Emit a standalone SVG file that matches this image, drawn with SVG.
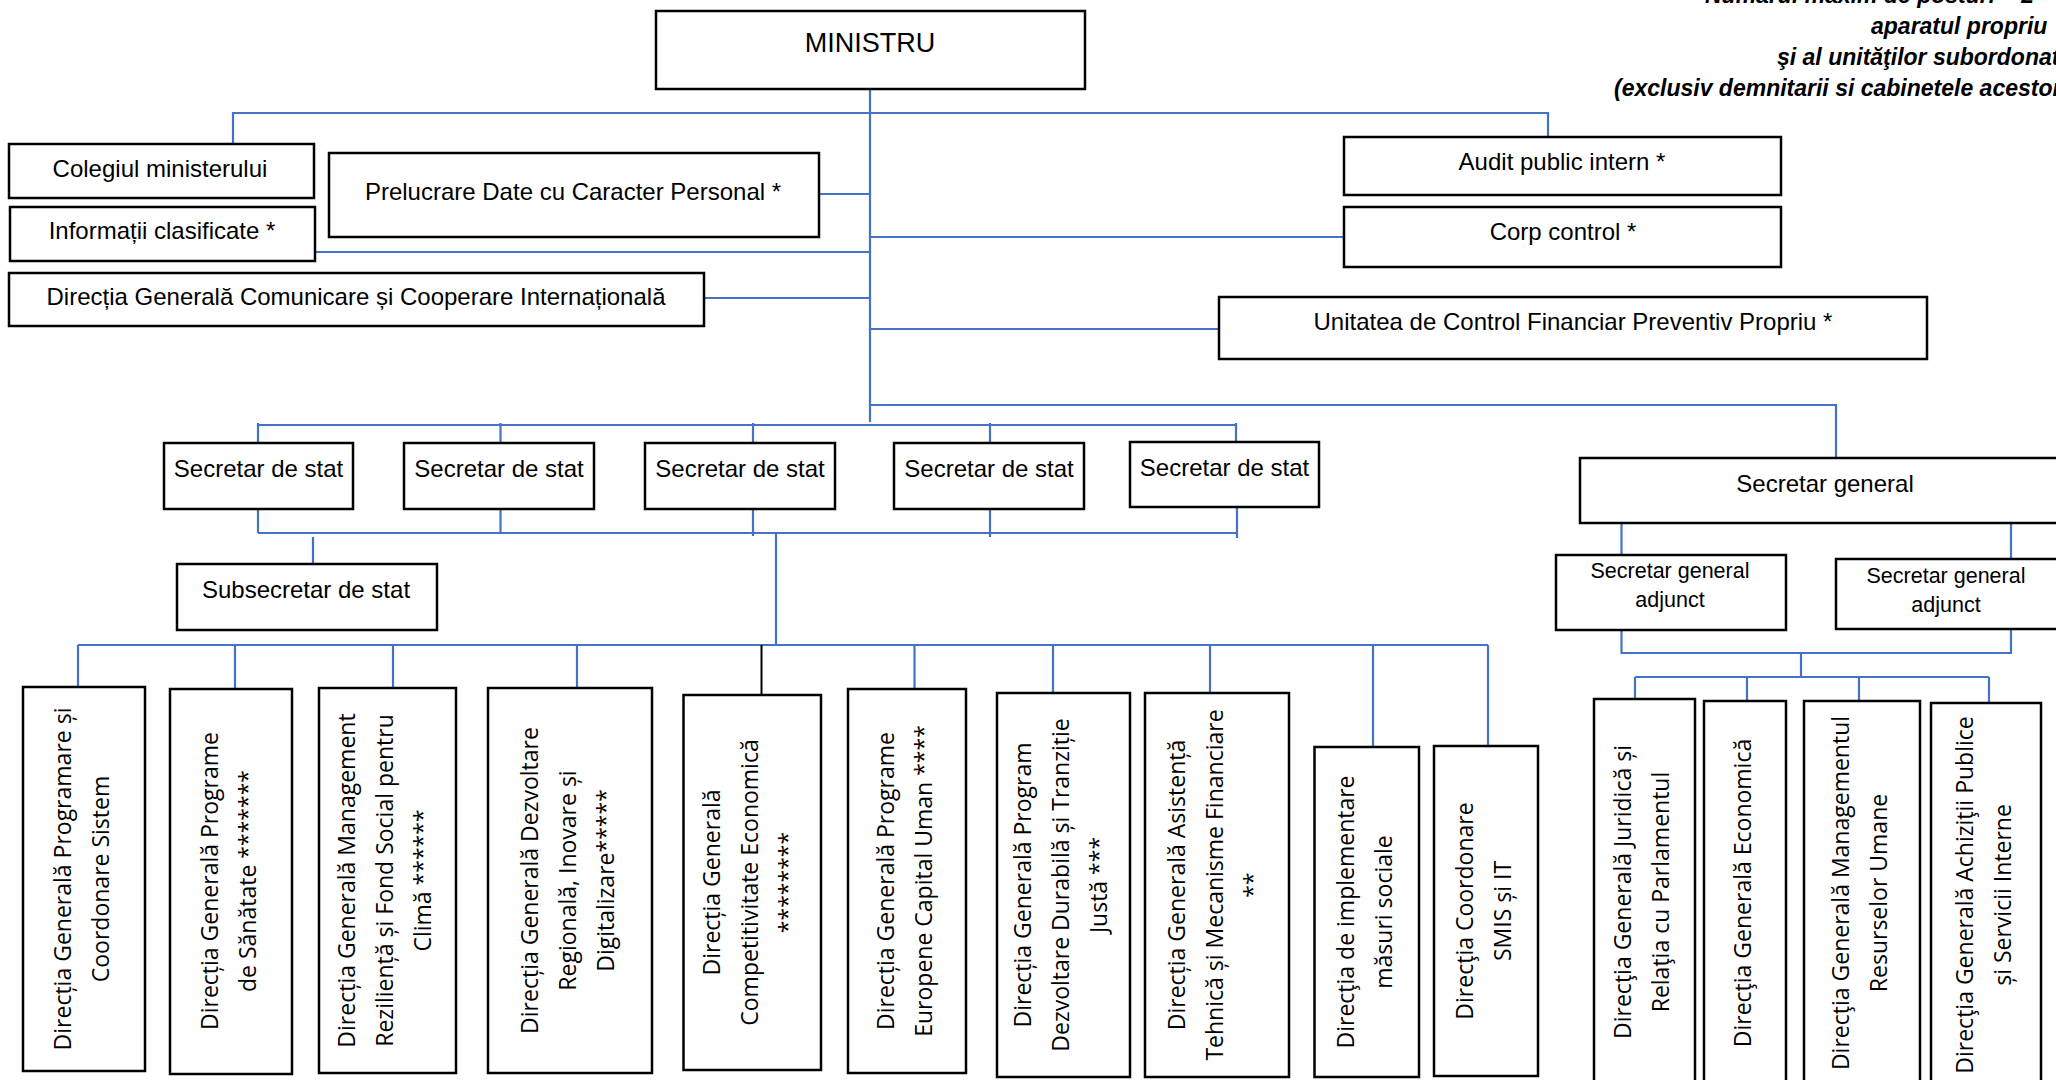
<svg xmlns="http://www.w3.org/2000/svg" width="2056" height="1080" viewBox="0 0 2056 1080">
<style>
.box{fill:#fff;stroke:#000;stroke-width:2.5}
.h{font-family:"Liberation Sans",Arial,sans-serif;font-size:24px;fill:#000;text-anchor:middle}
.hs{font-family:"Liberation Sans",Arial,sans-serif;font-size:21.5px;fill:#000;text-anchor:middle}
.v{font-family:"Open Sans","Noto Sans",sans-serif;font-size:23px;fill:#000;text-anchor:middle}
.hdr{font-family:"Liberation Sans",Arial,sans-serif;font-size:23px;font-weight:bold;font-style:italic;fill:#000}
.c{fill:none;stroke:#4472C4;stroke-width:2.2}
.k{fill:none;stroke:#000;stroke-width:2}
</style>
<rect width="2056" height="1080" fill="#fff"/>

<g id="header">
<text class="hdr" x="1705" y="3">Numărul maxim de posturi = 2</text>
<text class="hdr" x="1871" y="34">aparatul propriu</text>
<text class="hdr" x="1777" y="65">şi al unităţilor subordonate</text>
<text class="hdr" x="1614" y="96">(exclusiv demnitarii si cabinetele acestora)</text>
</g>

<g id="connectors">
<path class="c" d="M870,89 V422"/>
<path class="c" d="M233,144 V113 H1548 V137"/>
<path class="c" d="M819,194 H870"/>
<path class="c" d="M315,252 H870"/>
<path class="c" d="M870,237 H1344"/>
<path class="c" d="M704,298 H870"/>
<path class="c" d="M870,329 H1219"/>
<path class="c" d="M870,405 H1836 V458"/>
<path class="c" d="M258,425 H1236"/>
<path class="c" d="M258,423 V443 M500.5,423 V443 M753,423 V443 M990,423 V443 M1236,423 V442"/>
<path class="c" d="M258,509 V533 M500.5,509 V533 M753,509 V536 M990,509 V537 M1237,507 V538"/>
<path class="c" d="M258,533 H1238"/>
<path class="c" d="M313,537 V566"/>
<path class="c" d="M776,533 V645"/>
<path class="c" d="M78,645 H1488"/>
<path class="c" d="M78,645 V687 M235,645 V689 M393,645 V688 M577,645 V688 M914.5,645 V689 M1053,645 V693 M1210,645 V693 M1373,645 V747 M1488,645 V746"/>
<path class="k" d="M761.5,645 V695"/>
<path class="c" d="M1621.5,523 V555 M2011,523 V559"/>
<path class="c" d="M1621.5,630 V653 H2011 V629"/>
<path class="c" d="M1801,654 V677"/>
<path class="c" d="M1635,677 H1989"/>
<path class="c" d="M1635,677 V699 M1747,677 V701 M1859,677 V701 M1989,677 V703"/>
</g>

<g id="ministru"><rect class="box" x="656" y="11" width="429" height="78"/><text class="h" x="870" y="52" style="font-size:27px">MINISTRU</text></g>
<g id="colegiul"><rect class="box" x="9" y="144" width="305" height="54"/><text class="h" x="160" y="177">Colegiul ministerului</text></g>
<g id="informatii"><rect class="box" x="10" y="207" width="305" height="54"/><text class="h" x="162" y="239">Informații clasificate *</text></g>
<g id="prelucrare"><rect class="box" x="329" y="153" width="490" height="84"/><text class="h" x="573" y="200">Prelucrare Date cu Caracter Personal *</text></g>
<g id="dgcci"><rect class="box" x="9" y="273" width="695" height="53"/><text class="h" x="356" y="305">Direcția Generală Comunicare și Cooperare Internațională</text></g>
<g id="audit"><rect class="box" x="1344" y="137" width="437" height="58"/><text class="h" x="1562" y="170">Audit public intern *</text></g>
<g id="corp"><rect class="box" x="1344" y="207" width="437" height="60"/><text class="h" x="1563" y="240">Corp control *</text></g>
<g id="ucfpp"><rect class="box" x="1219" y="297" width="708" height="62"/><text class="h" x="1573" y="330">Unitatea de Control Financiar Preventiv Propriu *</text></g>

<g id="sds1"><rect class="box" x="164" y="443" width="189" height="66"/><text class="h" x="258.5" y="477">Secretar de stat</text></g>
<g id="sds2"><rect class="box" x="404" y="443" width="190" height="66"/><text class="h" x="499" y="477">Secretar de stat</text></g>
<g id="sds3"><rect class="box" x="645" y="443" width="190" height="66"/><text class="h" x="740" y="477">Secretar de stat</text></g>
<g id="sds4"><rect class="box" x="894" y="443" width="190" height="66"/><text class="h" x="989" y="477">Secretar de stat</text></g>
<g id="sds5"><rect class="box" x="1130" y="442" width="189" height="65"/><text class="h" x="1224.5" y="476">Secretar de stat</text></g>
<g id="subsecretar"><rect class="box" x="177" y="564" width="260" height="66"/><text class="h" x="306" y="598">Subsecretar de stat</text></g>

<g id="sg"><rect class="box" x="1580" y="458" width="490" height="65"/><text class="h" x="1825" y="492">Secretar general</text></g>
<g id="sga1"><rect class="box" x="1556" y="555" width="230" height="75"/><text class="hs" x="1670" y="578">Secretar general</text><text class="hs" x="1670" y="607">adjunct</text></g>
<g id="sga2"><rect class="box" x="1836" y="559" width="234" height="70"/><text class="hs" x="1946" y="583">Secretar general</text><text class="hs" x="1946" y="612">adjunct</text></g>

<g id="dirA"><rect class="box" x="23" y="687" width="122" height="384"/><text class="v" transform="translate(84,879) rotate(-90)"><tspan x="0" y="-13.5">Direcția Generală Programare și</tspan><tspan x="0" y="24.5">Coordonare Sistem</tspan></text></g>
<g id="dirB"><rect class="box" x="170" y="689" width="122" height="385"/><text class="v" transform="translate(231,881) rotate(-90)"><tspan x="0" y="-13.5">Direcția Generală Programe</tspan><tspan x="0" y="24.5">de Sănătate *******</tspan></text></g>
<g id="dirC"><rect class="box" x="319" y="688" width="137" height="385"/><text class="v" transform="translate(387.5,880.5) rotate(-90)"><tspan x="0" y="-32.5">Direcția Generală Management</tspan><tspan x="0" y="5.5">Reziliență și Fond Social pentru</tspan><tspan x="0" y="43.5">Climă ******</tspan></text></g>
<g id="dirD"><rect class="box" x="488" y="688" width="164" height="385"/><text class="v" transform="translate(570,880.5) rotate(-90)"><tspan x="0" y="-32.5">Direcția Generală Dezvoltare</tspan><tspan x="0" y="5.5">Regională, Inovare și</tspan><tspan x="0" y="43.5">Digitalizare*****</tspan></text></g>
<g id="dirE"><rect class="box" x="683.5" y="695" width="137.5" height="375"/><text class="v" transform="translate(752,882.5) rotate(-90)"><tspan x="0" y="-32.5">Direcția Generală</tspan><tspan x="0" y="5.5">Competitivitate Economică</tspan><tspan x="0" y="43.5">********</tspan></text></g>
<g id="dirF"><rect class="box" x="848" y="689" width="118" height="384"/><text class="v" transform="translate(907,881) rotate(-90)"><tspan x="0" y="-13.5">Direcția Generală Programe</tspan><tspan x="0" y="24.5">Europene Capital Uman ****</tspan></text></g>
<g id="dirG"><rect class="box" x="997" y="693" width="133" height="384"/><text class="v" transform="translate(1063.5,885) rotate(-90)"><tspan x="0" y="-32.5">Direcția Generală Program</tspan><tspan x="0" y="5.5">Dezvoltare Durabilă și Tranziție</tspan><tspan x="0" y="43.5">Justă ***</tspan></text></g>
<g id="dirH"><rect class="box" x="1145" y="693" width="144" height="384"/><text class="v" transform="translate(1217,885) rotate(-90)"><tspan x="0" y="-32.5">Direcția Generală Asistență</tspan><tspan x="0" y="5.5">Tehnică și Mecanisme Financiare</tspan><tspan x="0" y="43.5">**</tspan></text></g>
<g id="dirI"><rect class="box" x="1314.5" y="747" width="104.5" height="330"/><text class="v" transform="translate(1367,912) rotate(-90)"><tspan x="0" y="-13.5">Direcţia de implementare</tspan><tspan x="0" y="24.5">măsuri sociale</tspan></text></g>
<g id="dirJ"><rect class="box" x="1434" y="746" width="104" height="330"/><text class="v" transform="translate(1486,911) rotate(-90)"><tspan x="0" y="-13.5">Direcţia Coordonare</tspan><tspan x="0" y="24.5">SMIS și IT</tspan></text></g>
<g id="dirK"><rect class="box" x="1594" y="699" width="101" height="387"/><text class="v" transform="translate(1644.5,892) rotate(-90)"><tspan x="0" y="-13.5">Direcţia Generală Juridică și</tspan><tspan x="0" y="24.5">Relaţia cu Parlamentul</tspan></text></g>
<g id="dirL"><rect class="box" x="1704" y="701" width="82" height="385"/><text class="v" transform="translate(1745,893) rotate(-90)"><tspan x="0" y="5.5">Direcţia Generală Economică</tspan></text></g>
<g id="dirM"><rect class="box" x="1804" y="701" width="116" height="385"/><text class="v" transform="translate(1862,893) rotate(-90)"><tspan x="0" y="-13.5">Direcţia Generală Managementul</tspan><tspan x="0" y="24.5">Resurselor Umane</tspan></text></g>
<g id="dirN"><rect class="box" x="1931" y="703" width="110" height="385"/><text class="v" transform="translate(1986,895) rotate(-90)"><tspan x="0" y="-13.5">Direcţia Generală Achiziţii Publice</tspan><tspan x="0" y="24.5">și Servicii Interne</tspan></text></g>
</svg>
